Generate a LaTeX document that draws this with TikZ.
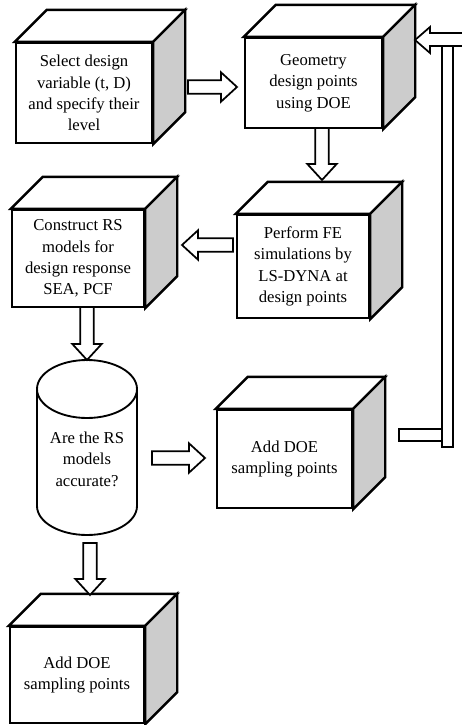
\documentclass[tikz,border=0pt]{standalone}
\usepackage{fontspec}
\setmainfont{Liberation Serif}
\usetikzlibrary{calc}

\tikzset{
  front/.style={draw,fill=white,line width=1.8pt,align=center,inner sep=0pt,font=\fontsize{12.5}{16}\selectfont},
  face/.style={draw,fill=white,line width=1.8pt,line join=miter},
  side/.style={face,fill=black!20},
  blk/.style={draw,fill=white,line width=1.3pt,line join=miter},
  tank/.style={line width=1.4pt}
}
% hollow block arrow from #1 to #2
\newcommand\hollow[2]{%
  \coordinate (hb) at ($(#2)!12pt!(#1)$);
  \draw[blk] ($(#1)!5pt!90:(#2)$) -- ($(hb)!5pt!-90:(#1)$) -- ($(hb)!11pt!-90:(#1)$) -- (#2)
    -- ($(hb)!11pt!90:(#1)$) -- ($(hb)!5pt!90:(#1)$) -- ($(#1)!5pt!-90:(#2)$) -- cycle;}

\begin{document}
\begin{tikzpicture}[x=0.75pt,y=0.75pt]
\useasboundingbox (0,0) rectangle (461,-725);

\node[front,minimum width=102pt,minimum height=75pt] (sel) at (84,-93) {Select design\\variable (t, D)\\and specify their\\level};
\node[front,minimum width=102.75pt,minimum height=67.5pt] (geo) at (313.5,-83) {Geometry\\design points\\using DOE};
\node[front,minimum width=99pt,minimum height=77.25pt] (fea) at (303,-266.5) {Perform FE\\simulations by\\LS-DYNA at\\design points};
\node[front,minimum width=99pt,minimum height=72.75pt] (rsm) at (78,-258.5) {Construct RS\\models for\\design response\\SEA, PCF};
\node[front,minimum width=101.25pt,minimum height=73.5pt] (add) at (284.5,-459) {Add DOE\\sampling points};
\node[front,minimum width=100.5pt,minimum height=72pt] (fin) at (77,-675) {Add DOE\\sampling points};

\foreach \n in {sel,geo,fea,rsm,add,fin} {
  \filldraw[face] (\n.north west) -- ++(32,32) -- ($(\n.north east)+(32,32)$) -- (\n.north east) -- cycle;
  \filldraw[side] (\n.north east) -- ++(32,32) -- ($(\n.south east)+(32,32)$) -- (\n.south east) -- cycle;
}

% decision drum
\draw[tank] (37,-389) -- (37,-506) arc[start angle=180,end angle=360,x radius=37.5pt,y radius=21.75pt] -- (137,-389);
\draw[tank] (87,-389) ellipse[x radius=37.5pt,y radius=21.75pt];
\node[align=center,font=\fontsize{12.5}{16}\selectfont] (acc) at (87,-459) {Are the RS\\models\\accurate?};

\coordinate (sel-out) at (188,-87); \coordinate (geo-in) at (237,-87);
\coordinate (geo-out) at (322,-128); \coordinate (fea-in) at (322,-180);
\coordinate (fea-out) at (233,-245); \coordinate (rsm-in) at (182,-245);
\coordinate (rsm-out) at (87,-307); \coordinate (acc-in) at (87,-360);
\coordinate (acc-out) at (152,-458); \coordinate (add-in) at (205,-458);
\coordinate (acc-dn) at (90,-543); \coordinate (fin-in) at (90,-595);
\foreach \a/\b in {sel-out/geo-in,geo-out/fea-in,fea-out/rsm-in,rsm-out/acc-in,acc-out/add-in,acc-dn/fin-in} {\hollow{\a}{\b}}

% loop back to the DOE box
\coordinate (geo-back) at (415,-40);
\draw[blk] (399,-429) rectangle (442,-441);
\draw[blk] (442,-46) rectangle (453,-447);
\draw[blk] (463,-33) -- (430,-33) -- (430,-27) -- (geo-back) -- (430,-53) -- (430,-46) -- (463,-46);
\end{tikzpicture}
\end{document}
